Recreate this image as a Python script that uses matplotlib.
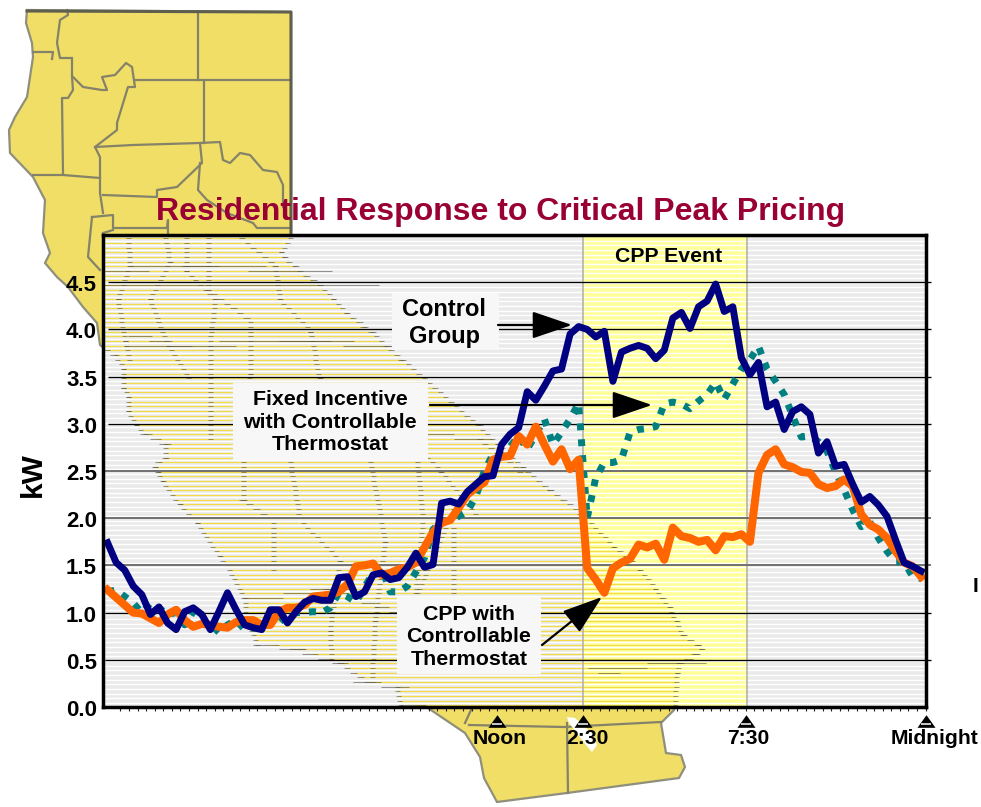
import numpy as np
import matplotlib
matplotlib.use("Agg")
import matplotlib.pyplot as plt
from matplotlib.patches import Polygon, Rectangle
from matplotlib.transforms import ScaledTranslation

plt.rcParams['font.family'] = ['Liberation Sans', 'DejaVu Sans']

# ---- data (kW per 15-minute slot) ----
control_group = [1.74,1.53,1.45,1.28,1.19,0.98,1.06,0.89,0.82,1.01,1.05,0.98,0.82,1.01,1.21,1.03,0.87,0.84,0.82,1.03,
                 1.03,0.89,1.01,1.11,1.15,1.13,1.13,1.37,1.38,1.17,1.22,1.40,1.42,1.35,1.37,1.48,1.63,1.48,1.51,2.16,
                 2.18,2.15,2.28,2.36,2.44,2.45,2.78,2.89,2.96,3.34,3.25,3.40,3.56,3.58,3.95,4.03,4.00,3.92,3.98,3.45,
                 3.76,3.80,3.83,3.80,3.69,3.78,4.12,4.18,4.01,4.24,4.30,4.48,4.19,4.24,3.70,3.52,3.65,3.18,3.23,2.94,
                 3.13,3.18,3.10,2.69,2.81,2.55,2.57,2.36,2.17,2.23,2.14,2.02,1.77,1.53,1.49,1.44]
fixed_incentive = [1.22,1.24,1.17,1.10,1.00,1.10,1.05,0.98,1.00,0.87,1.01,0.89,0.88,0.79,0.87,0.92,0.82,0.84,0.82,0.89,
                   0.89,0.98,1.00,1.00,1.01,1.00,1.05,1.21,1.17,1.11,1.27,1.42,1.48,1.22,1.22,1.28,1.43,1.58,1.88,1.97,
                   1.98,2.02,2.07,2.23,2.50,2.68,2.67,2.76,2.87,2.73,2.89,3.05,2.78,2.91,3.05,3.22,2.00,2.43,2.59,2.59,
                   2.62,2.91,2.94,2.95,2.97,3.21,3.23,3.21,3.16,3.24,3.31,3.44,3.26,3.42,3.58,3.68,3.82,3.58,3.45,3.31,
                   3.08,2.86,2.87,2.81,2.71,2.49,2.30,2.09,1.91,1.96,1.79,1.65,1.54,1.54,1.38,1.36]
cpp_thermostat = [1.24,1.16,1.08,1.00,0.99,0.94,0.89,0.98,1.03,0.92,0.85,0.88,0.87,0.85,0.84,0.90,0.92,0.92,0.87,0.87,
                  1.01,1.05,1.05,1.08,1.17,1.18,1.19,1.22,1.30,1.49,1.50,1.52,1.40,1.42,1.46,1.48,1.53,1.69,1.85,1.95,
                  1.98,2.11,2.25,2.32,2.38,2.62,2.65,2.66,2.87,2.78,2.97,2.78,2.60,2.73,2.52,2.62,1.47,1.35,1.21,1.47,
                  1.53,1.57,1.72,1.69,1.73,1.56,1.90,1.81,1.79,1.75,1.77,1.66,1.81,1.80,1.83,1.75,2.48,2.67,2.73,2.57,
                  2.54,2.49,2.48,2.36,2.32,2.34,2.41,2.34,2.04,1.93,1.88,1.79,1.65,1.53,1.49,1.38]
y_ticks = [0.0,0.5,1.0,1.5,2.0,2.5,3.0,3.5,4.0,4.5]
time_labels = ["Noon","2:30","7:30","Midnight"]
time_slots = [46,56,75,96]
event_start, event_end = 56.0, 75.1

# ---- decorative map outline, in picture pixels ----
map_edge = [(27,10),(291,12),(291,238),(281,252),(285,258),(296,268),(310,278),(320,285),(333,298),(346,312),(363,325),
            (373,333),(388,348),(401,358),(480,427),(497,443),(523,468),(550,490),(580,512),(613,545),(632,562),(640,570),
            (655,587),(663,600),(670,608),(677,623),(683,635),(698,645),(702,650),(695,655),(680,663),(677,673),(675,703),
            (674,710),(661,723),(666,753),(681,755),(685,767),(679,778),(567,793),(497,802),(484,778),(480,757),(465,733),
            (428,708),(400,703),(397,687),(367,682),(340,663),(297,650),(257,643),(245,617),(245,600),(228,567),(220,557),
            (197,523),(180,505),(163,483),(158,473),(155,465),(166,457),(165,443),(146,435),(136,425),(128,412),(128,395),
            (123,388),(123,367),(116,357),(100,345),(97,323),(83,307),(68,287),(57,277),(45,263),(50,253),(43,233),(45,200),
            (33,177),(10,153),(9,130),(15,117),(27,97),(33,57),(32,43),(26,23)]
county_lines = [
    [(67,10),(68,15),(60,20),(57,43),(60,58),(70,58)],
    [(33,52),(53,52),(52,59)],
    [(72,58),(72,77),(73,90),(68,98),(62,98),(63,173)],
    [(73,77),(83,87),(102,90),(107,90),(102,77),(115,75),(126,63),(132,67),(135,87),(128,87),(117,123),(117,130),(95,147),
     (100,157),(100,193),(103,213)],
    [(135,80),(290,80)],
    [(198,13),(198,80)],
    [(204,82),(204,143)],
    [(95,147),(133,145),(200,143),(220,142),(223,160),(230,163),(240,153),(250,155),(263,170),(277,172),(283,185),(283,207)],
    [(200,143),(202,163),(177,187),(157,190),(157,197),(103,195)],
    [(200,163),(198,190),(207,200),(227,213),(253,223),(257,228),(290,228)],
    [(33,175),(63,175),(100,178)],
    [(92,217),(113,215),(113,228),(167,228),(168,220),(168,233)],
    [(92,217),(88,257),(100,270)],
    [(113,230),(103,233)],
    [(469,725),(564,727),(661,722)],
    [(567,723),(568,793)],
    [(465,723),(471,710)],
]
inner_lines = [
    [(128,237),(130,265),(118,300),(125,340),(130,360)],
    [(165,237),(170,262),(150,300),(168,345),(190,380)],
    [(186,237),(186,270),(215,300),(210,345),(210,440)],
    [(208,237),(208,290),(250,320),(250,375),(240,420)],
    [(240,237),(275,265),(280,300),(310,330),(320,380),(330,410)],
    [(104,270),(200,265),(290,270)],
    [(110,285),(225,284)],
    [(140,337),(180,345),(300,340),(380,345)],
    [(243,460),(243,500),(273,520),(273,570)],
    [(290,460),(300,520),(340,560),(330,630),(332,660)],
    [(370,460),(385,540),(375,620),(372,680)],
    [(417,460),(423,520),(415,600),(453,510)],
    [(453,530),(453,600)],
    [(400,430),(480,440),(520,470)],
    [(340,400),(400,430),(440,470),(480,520)],
    [(245,600),(330,590),(420,620),(500,650)],
    [(598,672),(620,672)],
    [(617,668),(680,663)],
    map_edge[2:33],
    map_edge[44:70],
]
stripe_step = 4.67
white_rows = np.arange(240.6, 707, stripe_step)
yellow_rows = np.arange(238.3, 707, stripe_step)


def stripe_dashes(points):
    xs0, xs1, rows = [], [], []
    for (x0, y0), (x1, y1) in zip(points[:-1], points[1:]):
        lo, hi = min(y0, y1), max(y0, y1)
        for r in yellow_rows[(yellow_rows >= lo - 2.3) & (yellow_rows <= hi + 2.3)]:
            if hi - lo < 1:
                a, b = min(x0, x1), max(x0, x1)
            else:
                t = np.clip((r - y0) / (y1 - y0), 0, 1)
                xc = x0 + t * (x1 - x0)
                half = max(2.5, abs((x1 - x0) / (y1 - y0)) * stripe_step / 2)
                a, b = xc - half, xc + half
            xs0.append(a); xs1.append(b); rows.append(r)
    return rows, xs0, xs1


W, H = 981, 807
fig = plt.figure(figsize=(W / 100, H / 100), dpi=100, facecolor='white')

# base layer: map, picture-pixel coordinates
base = fig.add_axes([0, 0, 1, 1], zorder=0)
base.set_xlim(0, W); base.set_ylim(H, 0); base.axis('off')
MAP = '#F0DE66'
base.add_patch(Polygon(map_edge, closed=True, fc=MAP, ec='#8f8f7c', lw=1.6, zorder=1))
base.plot([27, 291, 291], [11, 12, 238], color='#5f5f50', lw=2.2, zorder=3)
for ln in county_lines:
    a = np.array(ln)
    base.plot(a[:, 0], a[:, 1], color='#85826a', lw=1.6, zorder=2)
base.add_patch(Polygon([(567,717),(575,718),(594,735),(597,745),(592,752),(586,745),(569,723)],
                       closed=True, fc='white', ec='none', zorder=4))

# chart layer
ax = fig.add_axes([103.3 / W, 1 - 707 / H, (925.5 - 103.3) / W, (707 - 235) / H], zorder=1)
ax.set_xlim(0, 96); ax.set_ylim(0, 5)
ax.set_facecolor('#EAEAEA')
px = base.transData

ax.axvspan(event_start, event_end, color='#FFFF99', lw=0, zorder=0.5)
ax.hlines(white_rows, 103, 926, color='white', lw=1.0, transform=px, zorder=1)
yel = ax.hlines(yellow_rows, 103, 926, color='#F2DC4A', lw=0.9, transform=px, zorder=1.2)
clip_poly = Polygon(map_edge, closed=True, transform=px)
yel.set_clip_path(clip_poly)
for ln in inner_lines:
    r, a, b = stripe_dashes(ln)
    ax.hlines(r, a, b, color='#55554a', lw=0.65, alpha=0.65, transform=px, zorder=1.3)

for xv in (event_start, event_end):
    ax.axvline(xv, color='#AFAFA5', lw=1.1, zorder=1.5)

for v in y_ticks[1:]:
    if 1.5 <= v <= 2.5:
        ax.hlines(v, 0.2, 96.7, color='#707070', lw=1.4, clip_on=False, zorder=2)
    else:
        ax.hlines(v, 0.6 if v > 2.5 else 0.2, 96.7, color='black', lw=0.95, clip_on=False, zorder=2)

# label boxes
for (x0, y0, x1, y1) in [(392, 293, 499, 350), (233, 383, 428, 460), (397, 597, 541, 674)]:
    ax.add_patch(Rectangle((x0, y0), x1 - x0, y1 - y0, fc='#F7F7F7', ec='none', transform=px, zorder=2.5))

slots = np.arange(len(control_group)) + 0.5
ax.plot(slots, fixed_incentive, color='#008080', lw=5.0, linestyle=(0, (1, 1.3)), dash_capstyle='butt', zorder=3)
ax.plot(slots, cpp_thermostat, color='#FF6600', lw=5.8, solid_joinstyle='round', zorder=3.2)
ax.plot(slots, control_group, color='#000080', lw=5.0, solid_joinstyle='round', zorder=3.4)

for s in ax.spines.values():
    s.set_linewidth(2.5); s.set_color('black'); s.set_zorder(5)
ax.set_yticks(y_ticks)
ax.set_yticklabels([f"{v:.1f}" for v in y_ticks], fontsize=16, fontweight='bold')
ax.tick_params(axis='y', length=0, pad=4.5)
shift = ScaledTranslation(0, -1 / 100, fig.dpi_scale_trans)
for lab in ax.get_yticklabels():
    lab.set_transform(lab.get_transform() + shift)
ax.set_xticks(np.arange(2, 97))
ax.tick_params(axis='x', length=3, width=0.8, labelbottom=False, color='#222222')

tri = [(-1, -0.7), (1, -0.7), (0, 0.7), (-1, -0.7)]
ax.plot(time_slots, [-0.15] * 4, marker=tri, ms=13, color='black', mew=0, ls='none', clip_on=False, zorder=6)
ax.plot(time_slots, [-0.175] * 4, marker='_', ms=7, mew=1.1, color='white', ls='none', clip_on=False, zorder=7)

# overlay: text and arrows
top = fig.add_axes([0, 0, 1, 1], zorder=2)
top.set_xlim(0, W); top.set_ylim(H, 0); top.axis('off'); top.patch.set_alpha(0)


def t(x, y, s, size, **kw):
    top.text(x, y, s, fontsize=size, fontweight='bold', ha='center', va='center', **kw)


t(501, 212, "Residential Response to Critical Peak Pricing", 23, color='#990033')
t(33, 475, "kW", 21.5, rotation=90)
t(976, 587, "I", 15)
t(669, 257, "CPP Event", 15.3)
t(444, 323, "Control\nGroup", 17, linespacing=1.27)
t(330, 422, "Fixed Incentive\nwith Controllable\nThermostat", 15.4, linespacing=1.25)
t(469, 637, "CPP with\nControllable\nThermostat", 15.4, linespacing=1.25)
for cx, lab in zip([500, 587, 748, 934], time_labels):
    t(cx, 738, lab, 15.2)

for start, end in [((498, 325), (572, 325)), ((430, 405), (652, 405)), ((542, 645), (602, 597))]:
    top.annotate("", xy=end, xytext=start,
                 arrowprops=dict(arrowstyle="-|>,head_length=25,head_width=8.5", mutation_scale=1,
                                 lw=1.6, color='black', shrinkA=0, shrinkB=0))

fig.savefig("out.png", dpi=100)
